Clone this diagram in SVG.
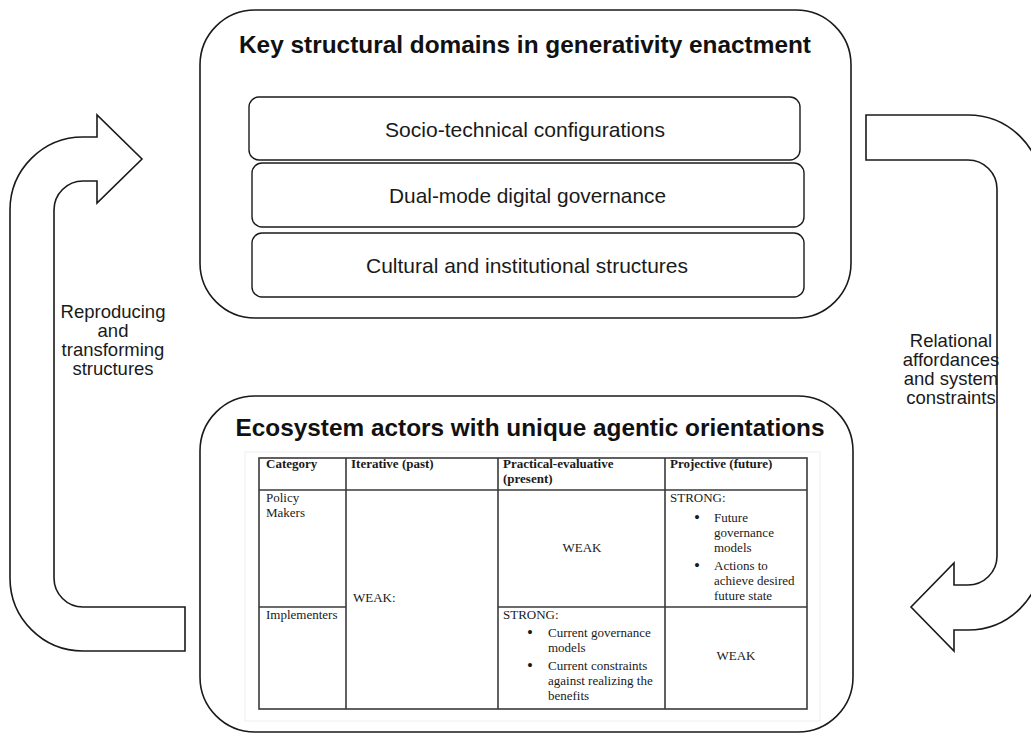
<svg xmlns="http://www.w3.org/2000/svg" width="1031" height="736" viewBox="0 0 1031 736">
  <style>
    .frame { fill: #ffffff; stroke: #1a1a1a; stroke-width: 1.6; }
    .item { fill: #ffffff; stroke: #1a1a1a; stroke-width: 1.4; }
    .arrow { fill: #ffffff; stroke: #1a1a1a; stroke-width: 1.6; stroke-linejoin: miter; }
    .title { font-family: "Liberation Sans", Arial, sans-serif; font-weight: bold; font-size: 24.5px; fill: #111; text-anchor: middle; }
    .itemtext { font-family: "Liberation Sans", Arial, sans-serif; font-size: 21px; fill: #1a1a1a; text-anchor: middle; }
    .label { font-family: "Liberation Sans", Arial, sans-serif; font-size: 18.5px; fill: #1a1a1a; text-anchor: middle; }
    .grid { stroke: #3a3a3a; stroke-width: 1.6; fill: none; }
    .cell { font-family: "Liberation Serif", "Times New Roman", serif; font-size: 13px; fill: #1a1a1a; }
    .head { font-weight: bold; }
    .mid { text-anchor: middle; }
    .bullet { font-family: "Liberation Serif", "Times New Roman", serif; font-size: 17px; fill: #1a1a1a; }
  </style>

  <!-- Flow arrows between the two domains -->
  <g id="connectors">
    <g id="arrow-reproducing">
      <path class="arrow" d="M 185 651 L 83 651 A 73 73 0 0 1 10 578 L 10 210 A 73 73 0 0 1 83 137 L 97 137 L 97 115 L 142 159 L 97 203 L 97 181 L 83 181 A 29 29 0 0 0 54 210 L 54 578 A 29 29 0 0 0 83 607 L 185 607 Z"/>
      <text class="label" x="113" y="318">Reproducing</text>
      <text class="label" x="113" y="337">and</text>
      <text class="label" x="113" y="356">transforming</text>
      <text class="label" x="113" y="375">structures</text>
    </g>
    <g id="arrow-relational">
      <path class="arrow" d="M 866 115 L 968 115 A 74 74 0 0 1 1042 189 L 1042 556 A 74 74 0 0 1 968 630 L 954 630 L 954 651 L 911 607 L 954 563 L 954 585 L 968 585 A 29 29 0 0 0 997 556 L 997 189 A 29 29 0 0 0 968 160 L 866 160 Z"/>
      <text class="label" x="951" y="347">Relational</text>
      <text class="label" x="951" y="366">affordances</text>
      <text class="label" x="951" y="385">and system</text>
      <text class="label" x="951" y="404">constraints</text>
    </g>
  </g>

  <!-- Structural domains -->
  <g id="structural-domains">
    <rect class="frame" x="200" y="10" width="651" height="308" rx="55" ry="55"/>
    <text class="title" x="525" y="53" textLength="572" lengthAdjust="spacingAndGlyphs">Key structural domains in generativity enactment</text>
  </g>
  <g id="socio-technical">
    <rect class="item" x="249" y="97" width="551" height="63" rx="10" ry="10"/>
    <text class="itemtext" x="525" y="137" textLength="280" lengthAdjust="spacingAndGlyphs">Socio-technical configurations</text>
  </g>
  <g id="dual-mode">
    <rect class="item" x="252" y="163" width="552" height="64" rx="10" ry="10"/>
    <text class="itemtext" x="527.5" y="203" textLength="277" lengthAdjust="spacingAndGlyphs">Dual-mode digital governance</text>
  </g>
  <g id="cultural">
    <rect class="item" x="252" y="233" width="552" height="64" rx="10" ry="10"/>
    <text class="itemtext" x="527" y="273" textLength="322" lengthAdjust="spacingAndGlyphs">Cultural and institutional structures</text>
  </g>

  <!-- Ecosystem actors and their agentic orientations -->
  <g id="ecosystem-actors">
    <rect class="frame" x="200" y="396" width="653" height="336" rx="55" ry="55"/>
    <text class="title" x="530" y="436" textLength="589" lengthAdjust="spacingAndGlyphs">Ecosystem actors with unique agentic orientations</text>

    <g id="orientation-table">
      <rect x="245" y="452" width="575" height="269" fill="none" stroke="#efefef" stroke-width="1"/>
      <rect class="grid" x="259" y="458" width="548" height="251"/>
      <line class="grid" x1="346" y1="458" x2="346" y2="709"/>
      <line class="grid" x1="498" y1="458" x2="498" y2="709"/>
      <line class="grid" x1="665" y1="458" x2="665" y2="709"/>
      <line class="grid" x1="259" y1="490" x2="807" y2="490"/>
      <line class="grid" x1="259" y1="607" x2="346" y2="607"/>
      <line class="grid" x1="498" y1="607" x2="807" y2="607"/>

      <!-- header row -->
      <text class="cell head" x="266" y="468">Category</text>
      <text class="cell head" x="351" y="468">Iterative (past)</text>
      <text class="cell head" x="503" y="468">Practical-evaluative</text>
      <text class="cell head" x="503" y="483">(present)</text>
      <text class="cell head" x="670" y="468">Projective (future)</text>

      <!-- policy makers -->
      <text class="cell" x="266" y="502">Policy</text>
      <text class="cell" x="266" y="517">Makers</text>
      <text class="cell" x="353" y="602">WEAK:</text>
      <text class="cell mid" x="582" y="552">WEAK</text>
      <text class="cell" x="670" y="502">STRONG:</text>
      <text class="bullet" x="694" y="523">•</text>
      <text class="cell" x="714" y="522">Future</text>
      <text class="cell" x="714" y="537">governance</text>
      <text class="cell" x="714" y="552">models</text>
      <text class="bullet" x="694" y="571">•</text>
      <text class="cell" x="714" y="570">Actions to</text>
      <text class="cell" x="714" y="585">achieve desired</text>
      <text class="cell" x="714" y="600">future state</text>

      <!-- implementers -->
      <text class="cell" x="266" y="619">Implementers</text>
      <text class="cell" x="503" y="619">STRONG:</text>
      <text class="bullet" x="527" y="638">•</text>
      <text class="cell" x="548" y="637">Current governance</text>
      <text class="cell" x="548" y="652">models</text>
      <text class="bullet" x="527" y="671">•</text>
      <text class="cell" x="548" y="670">Current constraints</text>
      <text class="cell" x="548" y="685">against realizing the</text>
      <text class="cell" x="548" y="700">benefits</text>
      <text class="cell mid" x="736" y="660">WEAK</text>
    </g>
  </g>
</svg>
